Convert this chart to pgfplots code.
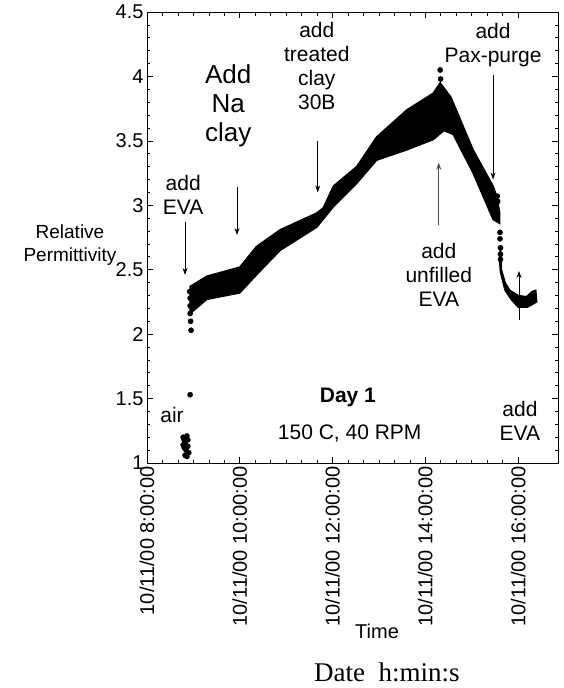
\documentclass[border=0pt]{standalone}
\usepackage{pgfplots}
\pgfplotsset{compat=1.18}
\usetikzlibrary{arrows.meta}
\usepackage{fontspec}
\setmainfont{Liberation Sans}
\newfontfamily\timesf{Liberation Serif}
\begin{document}
\begin{tikzpicture}[x=1pt,y=1pt]
\begin{axis}[
  at={(0,0)}, anchor=south west,
  scale only axis, width=411pt, height=451pt,
  xmin=8, xmax=16.86, ymin=1, ymax=4.5,
  clip=false,
  xtick={8,10,12,14,16},
  xticklabels={10/11/00 8:00:00,10/11/00 10:00:00,10/11/00 12:00:00,10/11/00 14:00:00,10/11/00 16:00:00},
  xticklabel style={rotate=90, anchor=east, xshift=0pt},
  ytick={1,1.5,2,2.5,3,3.5,4,4.5},
  yticklabels={1,1.5,2,2.5,3,3.5,4,4.5},
  minor x tick num=5, minor y tick num=4,
  tick align=inside,
  major tick length=6pt, minor tick length=3.5pt,
  ticklabel style={font=\fontsize{20}{22}\selectfont},
  axis line style={black, line width=0.8pt},
  every tick/.style={black, line width=0.7pt},
  /pgf/number format/assume math mode=true,
]
% main band
\addplot[fill=black, draw=black, line width=1.5pt] coordinates {
(8.93,2.37)(9.29,2.45)(10.0,2.52)(10.36,2.68)(10.87,2.81)(11.66,2.94)(11.8,2.98)(12.02,3.15)(12.52,3.30)(12.95,3.53)(13.6,3.74)(14.17,3.87)(14.32,3.95)(14.55,3.84)(15.03,3.43)(15.46,3.15)(15.54,3.07)(15.6,2.95)
(15.6,2.86)(15.46,2.89)(15.03,3.25)(14.6,3.55)(14.4,3.58)(14.17,3.51)(13.6,3.43)(12.95,3.35)(12.52,3.17)(12.02,2.99)(11.66,2.83)(10.87,2.65)(10.36,2.46)(10.0,2.32)(9.29,2.27)(8.93,2.16)
} -- cycle;
% tail band
\addplot[fill=black, draw=black, line width=1.5pt] coordinates {
(15.62,2.67)(15.64,2.50)(15.72,2.40)(15.82,2.34)(16.0,2.30)(16.18,2.29)(16.3,2.33)(16.38,2.34)
(16.40,2.25)(16.2,2.21)(16.0,2.21)(15.85,2.27)(15.72,2.34)(15.62,2.48)(15.6,2.58)
} -- cycle;
% scattered points
\addplot[only marks, mark=*, mark size=2.6pt, black] coordinates {
(8.92,2.33)(8.93,2.28)(8.93,2.22)(8.93,2.16)(8.94,2.10)(8.95,2.03)(8.93,1.53)
(14.32,4.05)(14.33,3.98)(15.55,3.07)(15.56,3.03)
(15.61,2.79)(15.61,2.74)(15.62,2.67)(15.62,2.62)(15.62,2.58)
(8.78,1.20)(8.80,1.18)(8.82,1.16)(8.84,1.19)(8.86,1.21)(8.80,1.12)(8.84,1.10)(8.88,1.13)(8.82,1.06)(8.86,1.05)(8.90,1.08)(8.88,1.18)(8.78,1.14)
};
% annotations
\tikzset{lab/.style={align=center, font=\fontsize{21}{24}\selectfont}}
\node[lab] at (axis cs:8.78,3.08) {add\\EVA};
\draw[-{Stealth[length=7pt,width=5pt]}, line width=0.7pt] (axis cs:8.82,2.87) -- (axis cs:8.82,2.46);
\node[lab, font=\fontsize{26}{29}\selectfont] at (axis cs:9.75,3.77) {Add\\Na\\clay};
\draw[-{Stealth[length=7pt,width=5pt]}, line width=0.7pt] (axis cs:9.94,3.14) -- (axis cs:9.94,2.77);
\node[lab] at (axis cs:11.66,4.08) {add\\treated\\clay\\30B};
\draw[-{Stealth[length=7pt,width=5pt]}, line width=0.7pt] (axis cs:11.68,3.50) -- (axis cs:11.68,3.10);
\node[lab] at (axis cs:14.29,2.46) {add\\unfilled\\EVA};
\draw[-{Stealth[length=7pt,width=5pt]}, line width=0.8pt, gray!60!black] (axis cs:14.29,2.85) -- (axis cs:14.29,3.33);
\node[lab] at (axis cs:15.46,4.24) {add\\Pax-purge};
\draw[-{Stealth[length=7pt,width=5pt]}, line width=0.7pt] (axis cs:15.46,4.01) -- (axis cs:15.46,3.20);
\node[lab] at (axis cs:16.04,1.33) {add\\EVA};
\draw[-{Stealth[length=7pt,width=5pt]}, line width=0.7pt] (axis cs:16.02,2.11) -- (axis cs:16.02,2.49);
\node[lab, font=\bfseries\fontsize{21}{24}\selectfont] at (axis cs:12.33,1.51) {Day 1};
\node[lab] at (axis cs:12.37,1.23) {150 C, 40 RPM};
\node[lab] at (axis cs:8.54,1.37) {air};
\node[lab, font=\fontsize{19}{23}\selectfont] at (axis cs:6.34,2.69) {Relative\\Permittivity};
\node[lab, font=\fontsize{20}{22}\selectfont] at (axis cs:12.96,-0.31) {Time};
\node[font=\timesf\fontsize{27}{30}\selectfont] at (axis cs:13.17,-0.628) {Date\ \ h:min:s};
\end{axis}
\path[use as bounding box] (-147,-225) rectangle (417,463);
\end{tikzpicture}
\end{document}
